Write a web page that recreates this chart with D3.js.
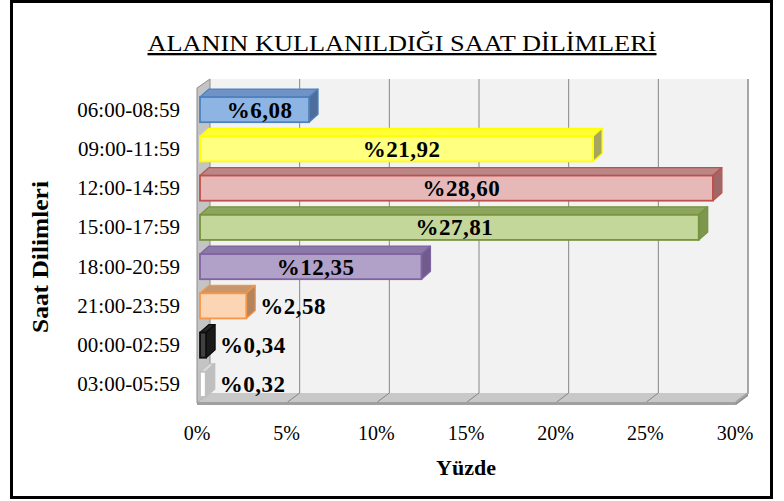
<!DOCTYPE html>
<html lang="tr">
<head>
<meta charset="UTF-8">
<title>Alanın Kullanıldığı Saat Dilimleri</title>
<script src="https://d3js.org/d3.v7.min.js"></script>
<style>
  body { margin: 0; background: #fff; }
  text { font-family: "Liberation Serif", "Times New Roman", serif; fill: #000; }
</style>
</head>
<body>
<div id="chart"></div>
<script>
const categories = ["06:00-08:59", "09:00-11:59", "12:00-14:59", "15:00-17:59",
                    "18:00-20:59", "21:00-23:59", "00:00-02:59", "03:00-05:59"];
const values = [6.08, 21.92, 28.60, 27.81, 12.35, 2.58, 0.34, 0.32];
const labels = ["%6,08", "%21,92", "%28,60", "%27,81", "%12,35", "%2,58", "%0,34", "%0,32"];
const ticks = [0, 5, 10, 15, 20, 25, 30];
// fill, stroke, top face, side face
const fills  = ["#8db4e2", "#ffff80", "#e6b9b8", "#c4d79b", "#b1a0c7", "#fcd5b4", "#404040", "#ffffff"];
const strokes = ["#4f81bd", "#ffff00", "#c0504d", "#77933c", "#8064a2", "#f79646", "#0d0d0d", "#bfbfbf"];
const tops   = ["#6f93c6", "#ffff33", "#b88786", "#8ea55f", "#8a78a6", "#c7966c", "#262626", "#d9d9d9"];
const sides  = ["#4d6e9c", "#a6a65c", "#a06767", "#7d9650", "#6f5c8c", "#b3855f", "#1a1a1a", "#bfbfbf"];

const W = 784, H = 501;
const svg = d3.select("#chart").append("svg").attr("width", W).attr("height", H);

// outer frame
svg.append("rect").attr("x", 11.5).attr("y", 1.5).attr("width", 760).attr("height", 496)
  .attr("fill", "#fff").attr("stroke", "#000").attr("stroke-width", 3);

// title
svg.append("text").attr("x", 402).attr("y", 51).attr("text-anchor", "middle")
  .style("font-size", "23px").style("text-decoration", "underline")
  .attr("textLength", 509).attr("lengthAdjust", "spacingAndGlyphs")
  .text("ALANIN KULLANILDIĞI SAAT DİLİMLERİ");

const x = d3.scaleLinear().domain([0, 30]).range([198, 736]);
const y = d3.scaleBand().domain(categories).range([90, 404]).paddingInner(0.36).paddingOuter(0.18);
const depth = {dx: 12, dy: 9};   // walls
const bd = {dx: 9, dy: 8};       // bars
const wallTop = 79, floorY = 402;

// back wall
svg.append("rect").attr("x", x(0) + depth.dx).attr("y", wallTop)
  .attr("width", x(30) - x(0)).attr("height", floorY - depth.dy - wallTop)
  .attr("fill", "#f2f2f2");

// left wall
svg.append("path")
  .attr("d", `M${x(0) - 1},${wallTop + depth.dy} L${x(0) + depth.dx},${wallTop} L${x(0) + depth.dx},${floorY - depth.dy} L${x(0) - 1},${floorY + 1}Z`)
  .attr("fill", "#c4c4c4").attr("stroke", "#8c8c8c").attr("stroke-width", 1);

// floor
svg.append("path")
  .attr("d", `M${x(0)},${floorY} L${x(30)},${floorY} L${x(30) + depth.dx},${floorY - depth.dy} L${x(0) + depth.dx},${floorY - depth.dy}Z`)
  .attr("fill", "#c8c8c8");
svg.append("rect").attr("x", x(0) - 1).attr("y", floorY).attr("width", x(30) - x(0) + 1).attr("height", 3)
  .attr("fill", "#a0a0a0");
svg.append("path")
  .attr("d", `M${x(30)},${floorY} L${x(30) + depth.dx},${floorY - depth.dy} L${x(30) + depth.dx},${floorY - depth.dy + 3} L${x(30)},${floorY + 3}Z`)
  .attr("fill", "#8c8c8c");

// gridlines (back wall + floor)
svg.append("g").selectAll("path").data(ticks.slice(1)).join("path")
  .attr("d", t => `M${x(t) + depth.dx},${wallTop} L${x(t) + depth.dx},${floorY - depth.dy} L${x(t)},${floorY}`)
  .attr("fill", "none").attr("stroke", t => t === 30 ? "#a6a6a6" : "#868686")
  .attr("stroke-width", t => t === 30 ? 2 : 1);

// x tick labels
svg.append("g").selectAll("text").data(ticks).join("text")
  .attr("x", t => x(t) - 1).attr("y", 440).attr("text-anchor", "middle")
  .style("font-size", "20px")
  .text(t => t + "%");

// y category labels
svg.append("g").selectAll("text").data(categories).join("text")
  .attr("x", 180).attr("y", c => y(c) + y.bandwidth() / 2 + 7).attr("text-anchor", "end")
  .style("font-size", "21px")
  .text(c => c);

// axis titles
svg.append("text").attr("x", 466).attr("y", 475).attr("text-anchor", "middle")
  .style("font-size", "22px").style("font-weight", "bold").text("Yüzde");
svg.append("text").attr("transform", "translate(48,257) rotate(-90)").attr("text-anchor", "middle")
  .style("font-size", "23px").style("font-weight", "bold")
  .attr("textLength", 152).attr("lengthAdjust", "spacingAndGlyphs")
  .text("Saat Dilimleri");

// 3D bars
const x0 = x(0) + 2;
const bars = svg.append("g").selectAll("g").data(values).join("g");
bars.each(function(v, i) {
  const g = d3.select(this);
  const y0 = y(categories[i]), y1 = y0 + y.bandwidth();
  const x1 = x(v) + 2;
  g.append("path")
    .attr("d", `M${x0},${y0} L${x1},${y0} L${x1 + bd.dx},${y0 - bd.dy} L${x0 + bd.dx},${y0 - bd.dy}Z`)
    .attr("fill", tops[i]).attr("stroke", strokes[i]).attr("stroke-width", 1.2).attr("stroke-linejoin", "round");
  g.append("path")
    .attr("d", `M${x1},${y0} L${x1 + bd.dx},${y0 - bd.dy} L${x1 + bd.dx},${y1 - bd.dy} L${x1},${y1}Z`)
    .attr("fill", sides[i]).attr("stroke", strokes[i]).attr("stroke-width", 1.2).attr("stroke-linejoin", "round");
  g.append("rect").attr("x", x0).attr("y", y0).attr("width", x1 - x0).attr("height", y1 - y0)
    .attr("fill", fills[i]).attr("stroke", strokes[i]).attr("stroke-width", 1.8);
  const inside = v > 5;
  g.append("text")
    .attr("x", inside ? (x0 + x1) / 2 + 5 : x1 + bd.dx + 5)
    .attr("y", (y0 + y1) / 2 + 8)
    .attr("text-anchor", inside ? "middle" : "start")
    .style("font-size", "23px").style("font-weight", "bold").style("letter-spacing", "0.5px")
    .text(labels[i]);
});
</script>
</body>
</html>
